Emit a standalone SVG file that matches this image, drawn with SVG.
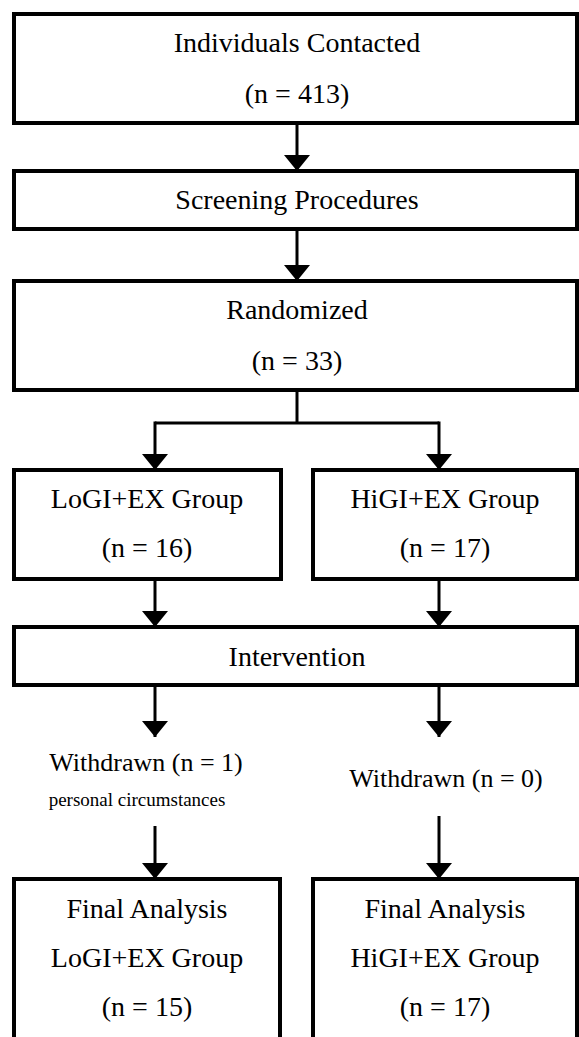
<svg xmlns="http://www.w3.org/2000/svg" width="579" height="1037" viewBox="0 0 579 1037">
<style>
.box{fill:#fff;stroke:#000;stroke-width:4}
.lbl{font-family:"Liberation Serif","Times New Roman",serif;font-size:28px;fill:#000;text-anchor:middle}
.wd{font-family:"Liberation Serif","Times New Roman",serif;font-size:26px;fill:#000;text-anchor:middle}
.sm{font-family:"Liberation Serif","Times New Roman",serif;font-size:19px;fill:#000;text-anchor:middle}
.conn{fill:none;stroke:#000;stroke-width:3}
</style>
<defs>
<marker id="ah" markerUnits="userSpaceOnUse" markerWidth="16" markerHeight="26" viewBox="0 0 16 26" refX="16" refY="13" orient="auto">
<path d="M0,0 L16,13 L0,26 z" fill="#000"/>
</marker>
</defs>
<rect width="579" height="1037" fill="#fff"/>
<g id="connectors">
<line class="conn" x1="297" y1="123" x2="297" y2="171" marker-end="url(#ah)"/>
<line class="conn" x1="297" y1="229" x2="297" y2="281" marker-end="url(#ah)"/>
<polyline class="conn" points="297,390 297,423"/>
<polyline class="conn" points="155,423 439,423"/>
<line class="conn" x1="155" y1="421.5" x2="155" y2="470" marker-end="url(#ah)"/>
<line class="conn" x1="439" y1="421.5" x2="439" y2="470" marker-end="url(#ah)"/>
<line class="conn" x1="155" y1="579" x2="155" y2="627" marker-end="url(#ah)"/>
<line class="conn" x1="439" y1="579" x2="439" y2="627" marker-end="url(#ah)"/>
<line class="conn" x1="155" y1="685" x2="155" y2="737" marker-end="url(#ah)"/>
<line class="conn" x1="439" y1="685" x2="439" y2="737" marker-end="url(#ah)"/>
<line class="conn" x1="155" y1="826" x2="155" y2="879" marker-end="url(#ah)"/>
<line class="conn" x1="439" y1="816" x2="439" y2="879" marker-end="url(#ah)"/>
</g>
<g id="contacted">
<rect class="box" x="14" y="14" width="563" height="109"/>
<text class="lbl" x="297" y="52">Individuals Contacted</text>
<text class="lbl" x="297" y="103">(n = 413)</text>
</g>
<g id="screening">
<rect class="box" x="14" y="171" width="563" height="58"/>
<text class="lbl" x="297" y="209">Screening Procedures</text>
</g>
<g id="randomized">
<rect class="box" x="14" y="281" width="563" height="109"/>
<text class="lbl" x="297" y="319">Randomized</text>
<text class="lbl" x="297" y="370">(n = 33)</text>
</g>
<g id="logi">
<rect class="box" x="14" y="470" width="267" height="109"/>
<text class="lbl" x="147" y="508">LoGI+EX Group</text>
<text class="lbl" x="147" y="557">(n = 16)</text>
</g>
<g id="higi">
<rect class="box" x="313" y="470" width="264" height="109"/>
<text class="lbl" x="445" y="508">HiGI+EX Group</text>
<text class="lbl" x="445" y="557">(n = 17)</text>
</g>
<g id="intervention">
<rect class="box" x="14" y="627" width="563" height="58"/>
<text class="lbl" x="297" y="666">Intervention</text>
</g>
<g id="withdrawn-lo">
<text class="wd" x="146" y="771">Withdrawn (n = 1)</text>
<text class="sm" x="137" y="806">personal circumstances</text>
</g>
<g id="withdrawn-hi">
<text class="wd" x="446" y="787">Withdrawn (n = 0)</text>
</g>
<g id="final-lo">
<rect class="box" x="14" y="879" width="266" height="170"/>
<text class="lbl" x="147" y="918">Final Analysis</text>
<text class="lbl" x="147" y="967">LoGI+EX Group</text>
<text class="lbl" x="147" y="1016">(n = 15)</text>
</g>
<g id="final-hi">
<rect class="box" x="313" y="879" width="264" height="170"/>
<text class="lbl" x="445" y="918">Final Analysis</text>
<text class="lbl" x="445" y="967">HiGI+EX Group</text>
<text class="lbl" x="445" y="1016">(n = 17)</text>
</g>
</svg>
